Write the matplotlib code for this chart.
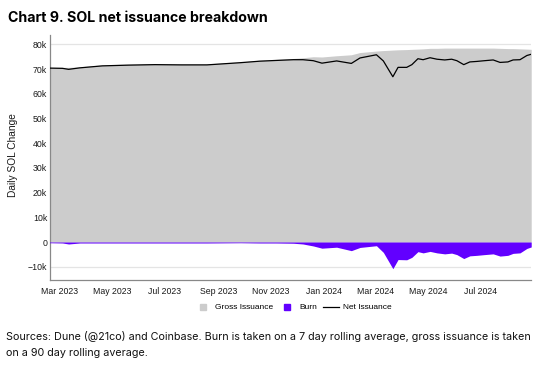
import numpy as np
import pandas as pd
import matplotlib
matplotlib.use("Agg")
import matplotlib.pyplot as plt
import matplotlib.dates as mdates
from matplotlib.lines import Line2D
from matplotlib.ticker import FuncFormatter

# values (thousands of SOL per day)
dates = pd.to_datetime([
    "2023-02-18", "2023-03-05", "2023-03-12", "2023-03-25", "2023-04-20",
    "2023-05-20", "2023-06-20", "2023-07-20", "2023-08-19", "2023-09-27",
    "2023-10-19", "2023-11-07", "2023-11-27", "2023-12-08", "2023-12-20",
    "2023-12-30", "2024-01-16", "2024-02-02", "2024-02-12", "2024-03-02",
    "2024-03-10", "2024-03-16", "2024-03-21", "2024-03-27", "2024-04-06",
    "2024-04-12", "2024-04-19", "2024-04-25", "2024-05-03", "2024-05-11",
    "2024-05-20", "2024-05-28", "2024-06-03", "2024-06-11", "2024-06-18",
    "2024-06-26", "2024-07-05", "2024-07-15", "2024-07-23", "2024-08-01",
    "2024-08-07", "2024-08-15", "2024-08-23", "2024-08-28",
])
gross = [
    70.7, 70.7, 70.7, 70.9, 71.7,
    72.0, 72.2, 72.1, 72.1, 72.9,
    73.6, 73.9, 74.3, 74.6, 75.0,
    74.9, 75.4, 75.8, 76.7, 77.3,
    77.5, 77.6, 77.7, 77.8, 77.9,
    78.0, 78.1, 78.2, 78.4, 78.4,
    78.5, 78.5, 78.5, 78.5, 78.5,
    78.5, 78.5, 78.5, 78.4, 78.3,
    78.3, 78.2, 78.1, 78.0,
]
burn = [
    -0.3, -0.4, -0.8, -0.4, -0.4,
    -0.4, -0.4, -0.4, -0.4, -0.3,
    -0.4, -0.4, -0.5, -0.8, -1.6,
    -2.5, -2.1, -3.5, -2.2, -1.5,
    -4.2, -7.8, -10.8, -7.1, -7.2,
    -6.2, -3.9, -4.4, -3.8, -4.4,
    -4.8, -4.5, -5.1, -6.7, -5.6,
    -5.4, -5.1, -4.8, -5.7, -5.4,
    -4.6, -4.4, -2.6, -2.0,
]
xticks = pd.date_range("2023-03-01", "2024-07-01", freq="2MS")

gross = np.array(gross) * 1000
burn = np.array(burn) * 1000
net = gross + burn

GRAY = "#cccccc"
PURPLE = "#6200ff"

fig = plt.figure(figsize=(5.4, 3.73), dpi=100)
ax = fig.add_axes([50 / 540, 1 - 280.3 / 373, 481 / 540, 245.3 / 373])

ax.fill_between(dates, 0, gross, color=GRAY, linewidth=0, zorder=2)
ax.fill_between(dates, 0, burn, color=PURPLE, linewidth=0, zorder=3)
ax.plot(dates, net, color="black", linewidth=0.9, zorder=4)

ax.set_xlim(pd.Timestamp("2023-02-18 12:00"), pd.Timestamp("2024-08-27 18:00"))
ax.set_ylim(-15500, 83800)
ax.set_yticks(np.arange(-10000, 80001, 10000))
ax.yaxis.set_major_formatter(FuncFormatter(
    lambda v, p: "0" if v == 0 else ("\u2212%dk" % abs(v / 1000) if v < 0 else "%dk" % (v / 1000))))
ax.set_xticks(xticks)
ax.xaxis.set_major_formatter(mdates.DateFormatter("%b %Y"))

ax.grid(axis="y", color="#e4e4e4", linewidth=0.9, zorder=0)
ax.set_axisbelow(True)
for s in ["top", "right"]:
    ax.spines[s].set_visible(False)
for s in ["left", "bottom"]:
    ax.spines[s].set_color("#888888")
    ax.spines[s].set_linewidth(0.9)
ax.tick_params(length=0, labelsize=6.3, labelcolor="#1a1a1a")
ax.tick_params(axis="x", pad=4.5)
ax.tick_params(axis="y", pad=2)
for lab in ax.get_xticklabels() + ax.get_yticklabels():
    lab.set_family("Liberation Sans")

ax.set_ylabel("Daily SOL Change", fontsize=7.3, family="Liberation Sans", color="#1a1a1a")
ax.yaxis.set_label_coords(-0.0655, 0.51)

handles = [
    Line2D([], [], marker="s", linestyle="none", markersize=5, color=GRAY),
    Line2D([], [], marker="s", linestyle="none", markersize=5, color=PURPLE),
    Line2D([], [], color="black", linewidth=0.9),
]
fig.legend(handles, ["Gross Issuance", "Burn", "Net Issuance"], loc="center",
           bbox_to_anchor=(293 / 540, 1 - 307.5 / 373), ncol=3, frameon=False,
           prop={"family": "Liberation Sans", "size": 6.0}, handlelength=2.0,
           handletextpad=0.45, columnspacing=0.7, borderpad=0)

fig.text(8 / 540, 1 - 18 / 373, "Chart 9. SOL net issuance breakdown",
         family="Inter", weight="bold", fontsize=10.2, va="center", ha="left")
fig.text(6 / 540, 1 - 336 / 373,
         "Sources: Dune (@21co) and Coinbase. Burn is taken on a 7 day rolling average, gross issuance is taken",
         family="Inter", fontsize=7.75, va="center", ha="left", color="#111111")
fig.text(6 / 540, 1 - 352.7 / 373, "on a 90 day rolling average.",
         family="Inter", fontsize=7.75, va="center", ha="left", color="#111111")

fig.savefig("out.png", dpi=100)
